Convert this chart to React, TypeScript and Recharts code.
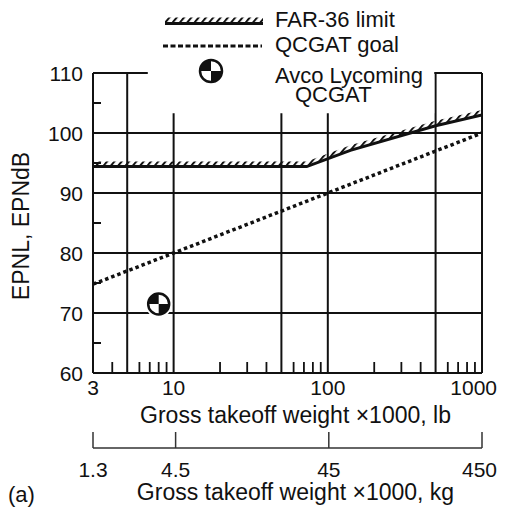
import React from "react";
import {
  ComposedChart,
  Line,
  Area,
  Scatter,
  XAxis,
  YAxis,
  CartesianGrid,
  ReferenceArea,
  Legend,
} from "recharts";

const FONT = "'Liberation Sans', Arial, Helvetica, sans-serif";
const INK = "#111";
const W = 490;
const H = 499;

// weight axes (x1000 lb, and the matching kg scale)
const LB_DOMAIN = [3, 1000];
const LB_LABELS = [3, 10, 100, 1000];
const LB_MINOR = [4, 6, 7, 8, 9, 20, 30, 40, 60, 70, 80, 90, 200, 300, 400, 600, 700, 800, 900];
const LB_GRID = [3, 5, 10, 50, 100, 500, 1000];
const KG_DOMAIN = [1.3, 450];
const KG_LABELS = [1.3, 4.5, 45, 450];

// noise axis (EPNdB)
const DB_DOMAIN = [60, 110];
const DB_LABELS = [60, 70, 80, 90, 100, 110];
const DB_MINOR = [65, 75, 85, 95, 105];

// FAR-36 limit
const farWeight = [3, 73, 140, 500, 1000];
const farDb = [94.4, 94.4, 97.1, 101.2, 103];

// QCGAT goal
const goalWeight = [3, 10, 100, 1000];
const goalDb = [74.8, 80, 90, 100];

// Avco Lycoming QCGAT
const avcoWeight = [8];
const avcoDb = [71.5];

const farData = farWeight.map((w, i) => ({ w, db: farDb[i] }));
const goalData = goalWeight.map((w, i) => ({ w, db: goalDb[i] }));
const avcoData = avcoWeight.map((w, i) => ({ w, db: avcoDb[i] }));
const kgData = KG_LABELS.map((kg) => ({ kg }));

const HATCH_DB = 0.85;

const QuarterMarker = ({ cx, cy, r }: { cx: number; cy: number; r: number }) => (
  <g>
    <circle cx={cx} cy={cy} r={r + 3} fill="#fff" />
    <circle cx={cx} cy={cy} r={r} fill="#fff" stroke={INK} strokeWidth={2.5} />
    <path d={`M${cx},${cy} L${cx - r},${cy} A${r},${r} 0 0 1 ${cx},${cy - r} Z`} fill={INK} />
    <path d={`M${cx},${cy} L${cx + r},${cy} A${r},${r} 0 0 1 ${cx},${cy + r} Z`} fill={INK} />
  </g>
);

// keeps the last label inside the page
const labelX = (x: number, halfWidth: number) =>
  x + halfWidth > W - 1 ? { x: W - 1, anchor: "end" } : { x, anchor: "middle" };

const LbTick = (props: any) => {
  const { x, y, payload } = props;
  if (LB_LABELS.includes(payload.value)) {
    const s = String(payload.value);
    const pos = labelX(x, s.length * 5.6);
    return (
      <text x={pos.x} y={y + 7} dy="0.72em" textAnchor={pos.anchor} fontFamily={FONT} fontSize={21} fill={INK}>
        {s}
      </text>
    );
  }
  return <line x1={x} x2={x} y1={y} y2={y - 11} stroke={INK} strokeWidth={1.8} />;
};

const KgTick = (props: any) => {
  const { x, y, payload } = props;
  const s = String(payload.value);
  const pos = labelX(x, s.length * 5.6);
  return (
    <g>
      <line x1={x} x2={x} y1={y} y2={y - 16} stroke="#333" strokeWidth={1.5} />
      <text x={pos.x} y={y + 14} dy="0.72em" textAnchor={pos.anchor} fontFamily={FONT} fontSize={21} fill={INK}>
        {s}
      </text>
    </g>
  );
};

const DbTick = (props: any) => {
  const { x, y, payload } = props;
  if (DB_LABELS.includes(payload.value)) {
    return (
      <text x={x - 10} y={y} dy="0.36em" textAnchor="end" fontFamily={FONT} fontSize={21} fill={INK}>
        {payload.value}
      </text>
    );
  }
  return <line x1={x} x2={x + 8} y1={y} y2={y} stroke={INK} strokeWidth={2} />;
};

const LegendBox = () => (
  <svg width={W} height={102} style={{ display: "block" }}>
    <rect x={157} y={9.5} width={98} height={5.5} fill="url(#farHatch)" />
    <line x1={157} x2={255} y1={15.5} y2={15.5} stroke={INK} strokeWidth={3} />
    <line x1={155} x2={254} y1={38} y2={38} stroke={INK} strokeWidth={3} strokeDasharray="5 2.5" />
    <QuarterMarker cx={203} cy={63} r={11} />
    <g fontFamily={FONT} fontSize={22} fill={INK}>
      <text x={267} y={19}>FAR-36 limit</text>
      <text x={267} y={44}>QCGAT goal</text>
      <text x={267} y={75}>Avco Lycoming</text>
      <text x={287} y={94}>QCGAT</text>
    </g>
  </svg>
);

export default function App() {
  return (
    <div style={{ width: W, height: H, background: "#fff", position: "relative" }}>
      <svg width={0} height={0} style={{ position: "absolute" }}>
        <defs>
          <pattern id="farHatch" patternUnits="userSpaceOnUse" width={5.6} height={10} patternTransform="rotate(40)">
            <rect x={0} y={0} width={2} height={10} fill={INK} />
          </pattern>
        </defs>
      </svg>
      <ComposedChart width={W} height={H} data={kgData} margin={{ top: 65, right: 16, bottom: 0, left: 0 }}>
        <CartesianGrid stroke={INK} strokeWidth={2} horizontalValues={DB_LABELS} verticalValues={LB_GRID} />
        <XAxis
          dataKey="w"
          type="number"
          scale="log"
          domain={LB_DOMAIN}
          allowDataOverflow
          ticks={[...LB_LABELS, ...LB_MINOR].sort((a, b) => a - b)}
          interval={0}
          tickLine={false}
          tickSize={0}
          tickMargin={0}
          height={75}
          axisLine={{ stroke: INK, strokeWidth: 2 }}
          tick={LbTick}
          label={(p: any) => {
            const vb = p.viewBox;
            return (
              <text x={vb.x + vb.width / 2 + 8} y={vb.y + vb.height - 25} textAnchor="middle" fontFamily={FONT} fontSize={23} fill={INK}>
                Gross takeoff weight ×1000, lb
              </text>
            );
          }}
        />
        <XAxis
          xAxisId="kg"
          dataKey="kg"
          type="number"
          scale="log"
          domain={KG_DOMAIN}
          allowDataOverflow
          ticks={KG_LABELS}
          interval={0}
          tickLine={false}
          tickSize={0}
          tickMargin={0}
          height={59}
          axisLine={{ stroke: "#333", strokeWidth: 1.5 }}
          tick={KgTick}
          label={(p: any) => {
            const vb = p.viewBox;
            return (
              <g fontFamily={FONT} fontSize={23} fill={INK}>
                <text x={vb.x + vb.width / 2 + 8} y={vb.y + vb.height - 7} textAnchor="middle">
                  Gross takeoff weight ×1000, kg
                </text>
                <text x={0} y={vb.y + vb.height - 5} fontSize={22}>(a)</text>
              </g>
            );
          }}
        />
        <YAxis
          type="number"
          domain={DB_DOMAIN}
          allowDataOverflow
          ticks={[...DB_LABELS, ...DB_MINOR].sort((a, b) => a - b)}
          interval={0}
          tickLine={false}
          tickSize={0}
          tickMargin={0}
          width={85}
          axisLine={{ stroke: INK, strokeWidth: 2 }}
          tick={DbTick}
          label={(p: any) => {
            const vb = p.viewBox;
            const lx = vb.x + 21;
            const ly = vb.y + vb.height / 2 + 3;
            return (
              <text x={lx} y={ly} transform={`rotate(-90 ${lx} ${ly})`} textAnchor="middle" fontFamily={FONT} fontSize={23} fill={INK}>
                EPNL, EPNdB
              </text>
            );
          }}
        />
        <ReferenceArea x1={6.8} x2={490} y1={103.3} y2={110.5} fill="#fff" fillOpacity={1} stroke="none" ifOverflow="visible" />
        <Area
          data={farData}
          dataKey={(d: any) => [d.db, d.db + HATCH_DB]}
          type="linear"
          stroke="none"
          fill="url(#farHatch)"
          fillOpacity={1}
          isAnimationActive={false}
        />
        <Line data={farData} dataKey="db" type="linear" stroke={INK} strokeWidth={3} dot={false} isAnimationActive={false} />
        <Line
          data={goalData}
          dataKey="db"
          type="linear"
          stroke={INK}
          strokeWidth={3.5}
          strokeDasharray="3.5 3"
          dot={false}
          isAnimationActive={false}
        />
        <Scatter
          data={avcoData}
          dataKey="db"
          isAnimationActive={false}
          shape={(p: any) => <QuarterMarker cx={p.cx} cy={p.cy} r={10.5} />}
        />
        <Legend
          verticalAlign="middle"
          align="center"
          layout="horizontal"
          wrapperStyle={{ position: "absolute", top: 0, left: 0, width: W, height: 102 }}
          content={() => <LegendBox />}
        />
      </ComposedChart>
    </div>
  );
}
